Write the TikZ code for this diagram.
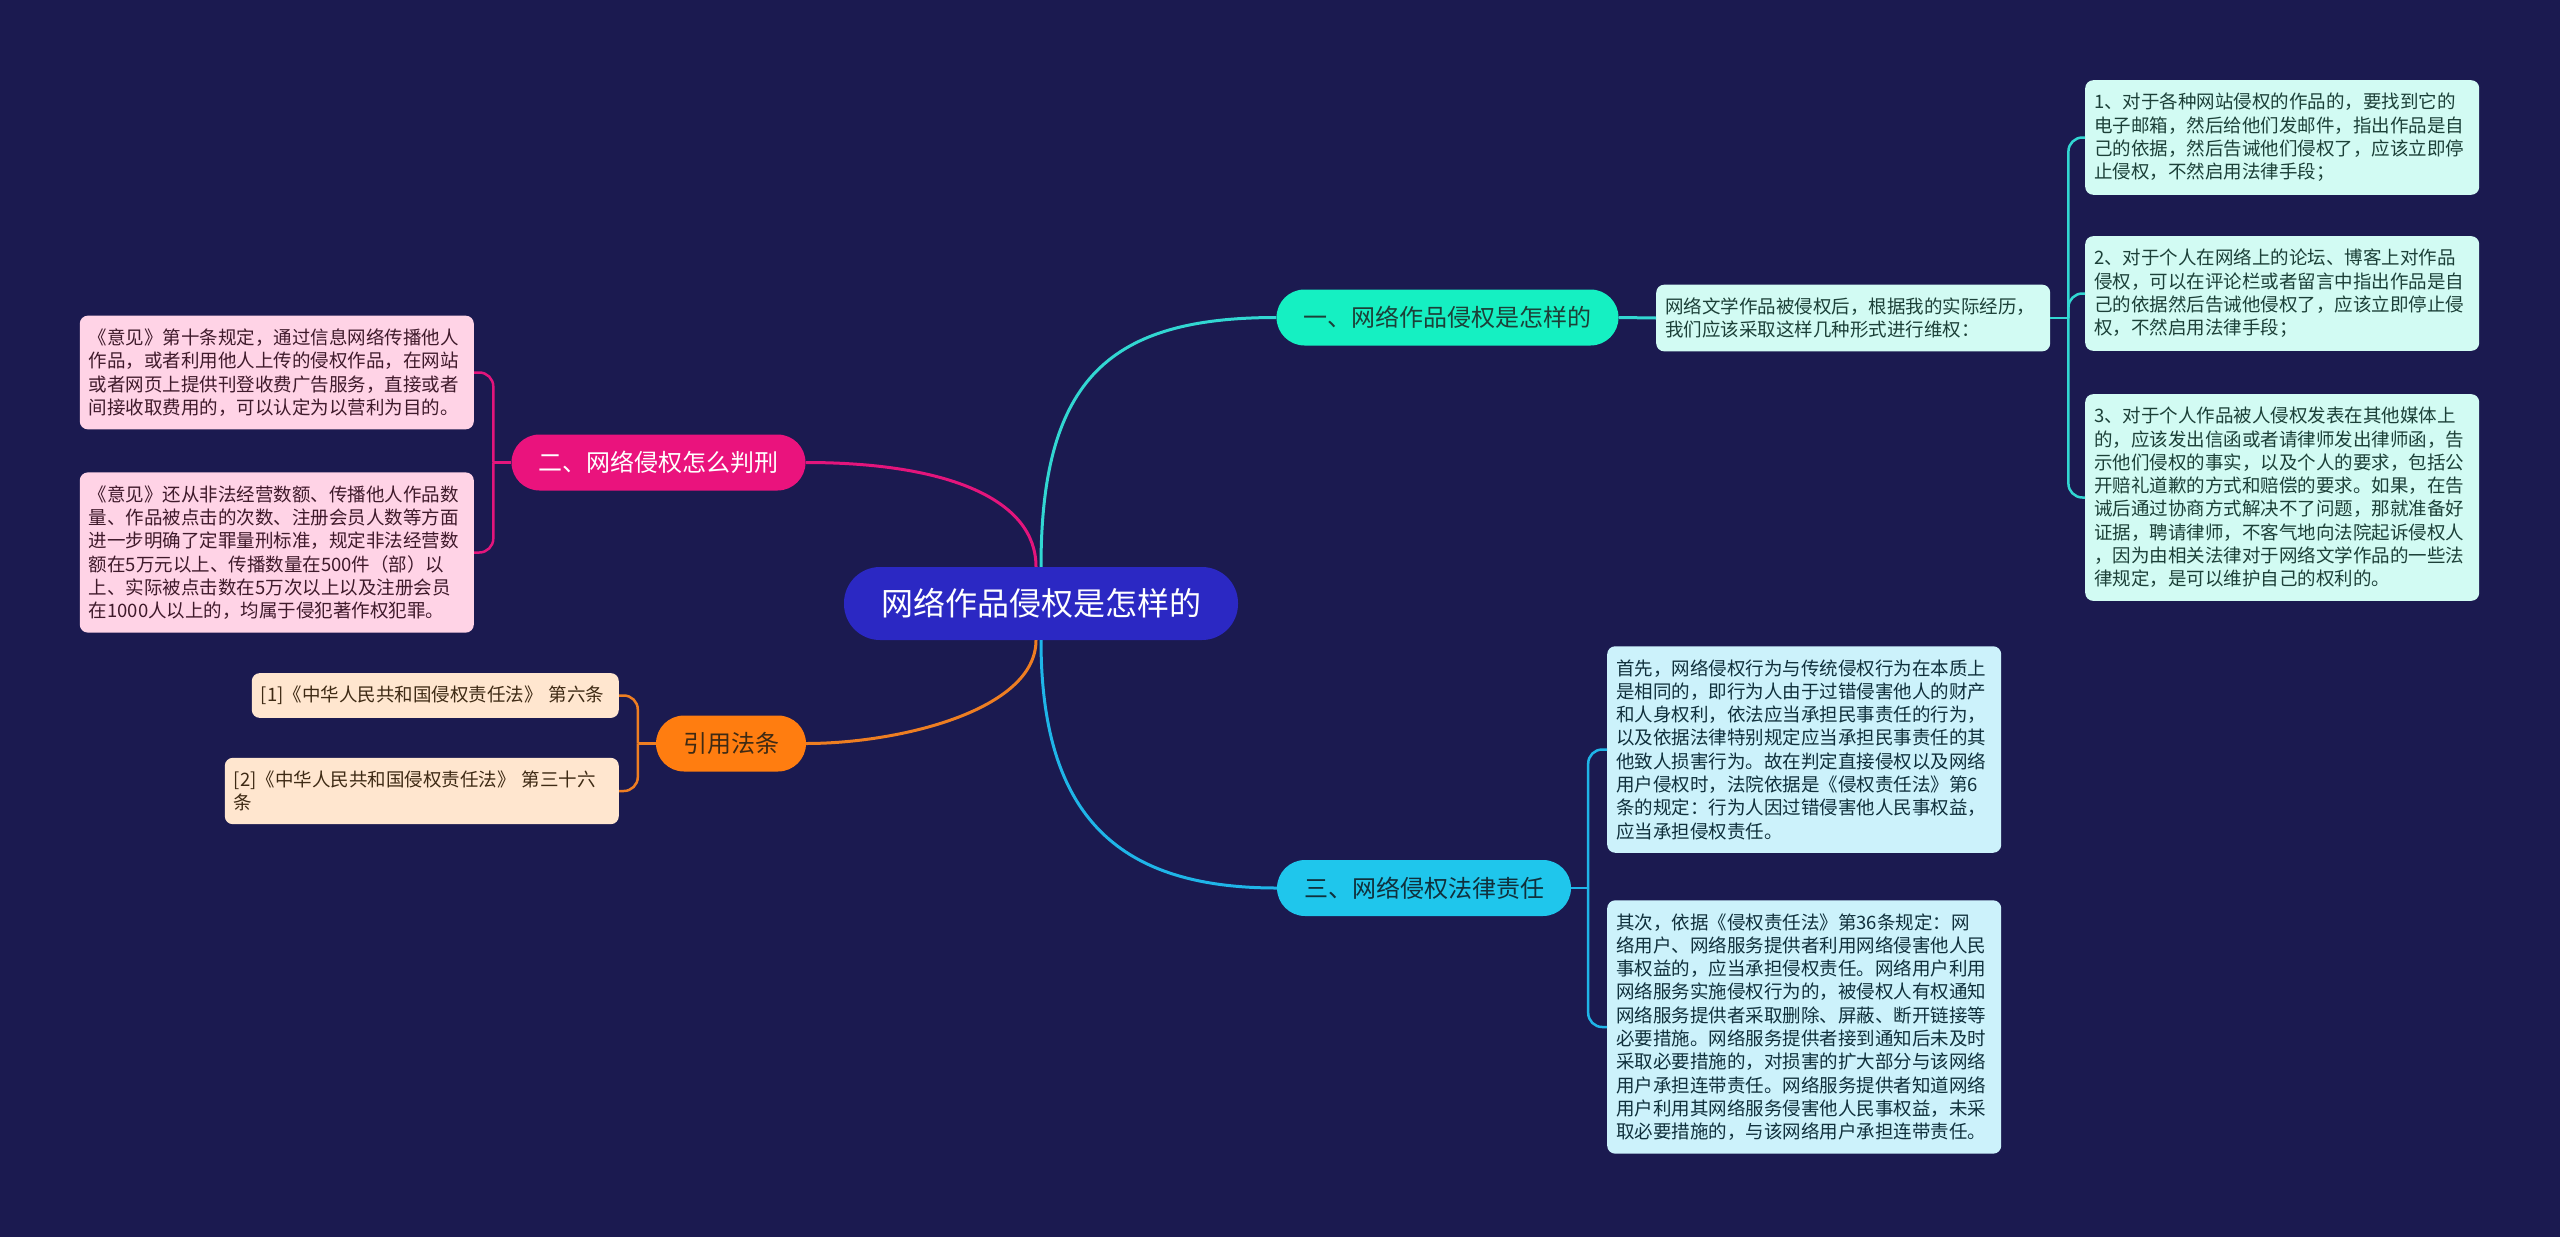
\documentclass[tikz,border=0pt]{standalone}
\usepackage{fontspec}
\setmainfont{Noto Sans CJK SC}

\definecolor{bgnavy}{HTML}{1B1A50}
\definecolor{rootblue}{HTML}{2B28C3}
\definecolor{mintT}{HTML}{15F0C2}
\definecolor{mintL}{HTML}{D2FBF3}
\definecolor{mintD}{HTML}{1C4038}
\definecolor{mintLine}{HTML}{32D7D2}
\definecolor{pinkT}{HTML}{EA137D}
\definecolor{pinkL}{HTML}{FFD3E6}
\definecolor{pinkD}{HTML}{3F1A2B}
\definecolor{pinkLine}{HTML}{E3157C}
\definecolor{orangeT}{HTML}{FF7D10}
\definecolor{orangeL}{HTML}{FFE6CF}
\definecolor{orangeD}{HTML}{3E2A14}
\definecolor{orangeLine}{HTML}{EE7E22}
\definecolor{skyT}{HTML}{1FC6EC}
\definecolor{skyL}{HTML}{CCF2FB}
\definecolor{skyD}{HTML}{10303C}
\definecolor{skyLine}{HTML}{1FB5E8}

\tikzset{
  rootnode/.style={fill=rootblue,text=white,rounded corners=36pt,minimum height=73pt,
    inner xsep=37pt,inner ysep=0pt,font=\fontsize{32}{38}\selectfont},
  topic/.style={rounded corners=28pt,minimum height=56pt,inner xsep=27pt,inner ysep=0pt,
    font=\fontsize{24}{28}\selectfont},
  leaf/.style={rounded corners=8pt,text width=376pt,inner xsep=9pt,inner ysep=13pt,
    align=left,font=\fontsize{18.5}{23.3}\selectfont},
  link/.style={line width=3pt},
  twig/.style={line width=2.5pt,rounded corners=14pt},
}

\begin{document}
\begin{tikzpicture}[x=1pt,y=-1pt]
    % background
    \fill[bgnavy] (0,0) rectangle (2560,1237);
    \useasboundingbox (0,0) rectangle (2560,1237);

    % root and the four topics
    \node[rootnode] (root) at (1041,603.5) {网络作品侵权是怎样的};
    \node[topic,fill=mintT,text=mintD] (t1) at (1447.5,317.5) {一、网络作品侵权是怎样的};
    \node[topic,fill=pinkT,text=white] (t2) at (658.5,462.5) {二、网络侵权怎么判刑};
    \node[topic,fill=orangeT,text=orangeD] (t4) at (731,743.5) {引用法条};
    \node[topic,fill=skyT,text=skyD] (t3) at (1424,888) {三、网络侵权法律责任};

    \draw[link,mintLine] (root.north) .. controls +(0,-190) and +(-165,0) .. (t1.west);
    \draw[link,pinkLine] ([xshift=-5pt]root.north) .. controls +(0,-67) and +(143,0) .. (t2.east);
    \draw[link,orangeLine] ([xshift=-5pt]root.south) .. controls +(0,70) and +(93,0) .. (t4.east);
    \draw[link,skyLine] (root.south) .. controls +(0,180) and +(-155,0) .. (t3.west);

    % topic one
    \node[leaf,fill=mintL,text=mintD,anchor=west] (m1) at (1656,318)
      {网络文学作品被侵权后，根据我的实际经历，\\我们应该采取这样几种形式进行维权：};
    \node[leaf,fill=mintL,text=mintD,anchor=west] (a1) at (2085,137.5)
      {1、对于各种网站侵权的作品的，要找到它的\\电子邮箱，然后给他们发邮件，指出作品是自\\己的依据，然后告诫他们侵权了，应该立即停\\止侵权，不然启用法律手段；};
    \node[leaf,fill=mintL,text=mintD,anchor=west] (a2) at (2085,293.5)
      {2、对于个人在网络上的论坛、博客上对作品\\侵权，可以在评论栏或者留言中指出作品是自\\己的依据然后告诫他侵权了，应该立即停止侵\\权，不然启用法律手段；};
    \node[leaf,fill=mintL,text=mintD,anchor=west] (a3) at (2085,497.5)
      {3、对于个人作品被人侵权发表在其他媒体上\\的，应该发出信函或者请律师发出律师函，告\\示他们侵权的事实，以及个人的要求，包括公\\开赔礼道歉的方式和赔偿的要求。如果，在告\\诫后通过协商方式解决不了问题，那就准备好\\证据，聘请律师，不客气地向法院起诉侵权人\\，因为由相关法律对于网络文学作品的一些法\\律规定，是可以维护自己的权利的。};
    \draw[link,mintLine] (t1.east) -- (m1.west);
    \draw[twig,mintLine] (m1.east) -- ++(18,0) coordinate (j1);
    \foreach \n in {a1,a2,a3}
      \draw[twig,mintLine] (j1) |- (\n.west);

    % topic two
    \node[leaf,fill=pinkL,text=pinkD,anchor=east] (p1) at (474,372.5)
      {《意见》第十条规定，通过信息网络传播他人\\作品，或者利用他人上传的侵权作品，在网站\\或者网页上提供刊登收费广告服务，直接或者\\间接收取费用的，可以认定为以营利为目的。};
    \node[leaf,fill=pinkL,text=pinkD,anchor=east] (p2) at (474,552.5)
      {《意见》还从非法经营数额、传播他人作品数\\量、作品被点击的次数、注册会员人数等方面\\进一步明确了定罪量刑标准，规定非法经营数\\额在5万元以上、传播数量在500件（部）以\\上、实际被点击数在5万次以上以及注册会员\\在1000人以上的，均属于侵犯著作权犯罪。};
    \draw[twig,pinkLine] (t2.west) -- ++(-18,0) coordinate (j2);
    \foreach \n in {p1,p2}
      \draw[twig,pinkLine] (j2) |- (\n.east);

    % cited laws
    \node[leaf,fill=orangeL,text=orangeD,anchor=east,text width=349pt] (c1) at (619,695.5)
      {[1]《中华人民共和国侵权责任法》 第六条};
    \node[leaf,fill=orangeL,text=orangeD,anchor=east] (c2) at (619,791)
      {[2]《中华人民共和国侵权责任法》 第三十六\\条};
    \draw[twig,orangeLine] (t4.west) -- ++(-18,0) coordinate (j4);
    \foreach \n in {c1,c2}
      \draw[twig,orangeLine] (j4) |- (\n.east);

    % topic three
    \node[leaf,fill=skyL,text=skyD,anchor=west] (s1) at (1607,749.5)
      {首先，网络侵权行为与传统侵权行为在本质上\\是相同的，即行为人由于过错侵害他人的财产\\和人身权利，依法应当承担民事责任的行为，\\以及依据法律特别规定应当承担民事责任的其\\他致人损害行为。故在判定直接侵权以及网络\\用户侵权时，法院依据是《侵权责任法》第6\\条的规定：行为人因过错侵害他人民事权益，\\应当承担侵权责任。};
    \node[leaf,fill=skyL,text=skyD,anchor=west] (s2) at (1607,1027)
      {其次，依据《侵权责任法》第36条规定：网\\络用户、网络服务提供者利用网络侵害他人民\\事权益的，应当承担侵权责任。网络用户利用\\网络服务实施侵权行为的，被侵权人有权通知\\网络服务提供者采取删除、屏蔽、断开链接等\\必要措施。网络服务提供者接到通知后未及时\\采取必要措施的，对损害的扩大部分与该网络\\用户承担连带责任。网络服务提供者知道网络\\用户利用其网络服务侵害他人民事权益，未采\\取必要措施的，与该网络用户承担连带责任。};
    \draw[twig,skyLine] (t3.east) -- ++(17,0) coordinate (j3);
    \foreach \n in {s1,s2}
      \draw[twig,skyLine] (j3) |- (\n.west);
\end{tikzpicture}
\end{document}
